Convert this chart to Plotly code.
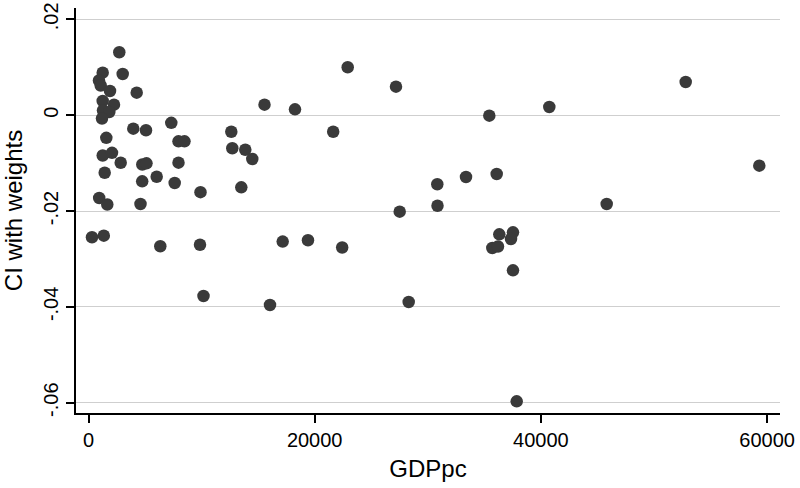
import plotly.graph_objects as go

# GDP per capita and the weighted concentration index
gdppc = [
    2723, 3024, 1256, 928, 1079, 1901, 4262, 1256, 2255, 1282,
    1839, 1194, 3961, 5084, 7321, 7958, 8488, 1574, 12627, 12715,
    13864, 14483, 1256, 2078, 2847, 4757, 5128, 7958, 1432, 6030,
    4748, 7622, 9903, 13511, 946, 1662, 4598, 15562, 18259, 309,
    1353, 6349, 9859, 17171, 10168, 16048, 22919, 27189, 21636, 35439,
    40744, 52804, 59312, 30841, 33379, 36093, 30859, 27517, 45820, 19408,
    22432, 36323, 37534, 37358, 35704, 36208, 37534, 28312, 37862,
]
ci_weights = [
    0.01313, 0.00860, 0.00887, 0.00724, 0.00620, 0.00505, 0.00470, 0.00296, 0.00219, 0.00098,
    0.00067, -0.00069, -0.00282, -0.00315, -0.00159, -0.00545, -0.00545, -0.00472, -0.00346, -0.00689,
    -0.00722, -0.00914, -0.00841, -0.00785, -0.00993, -0.01029, -0.01004, -0.00991, -0.01202, -0.01284,
    -0.01380, -0.01415, -0.01607, -0.01505, -0.01728, -0.01864, -0.01853, 0.00219, 0.00123, -0.02548,
    -0.02515, -0.02736, -0.02703, -0.02638, -0.03773, -0.03961, 0.01000, 0.00595, -0.00346, -0.00010,
    0.00171, 0.00693, -0.01054, -0.01442, -0.01290, -0.01227, -0.01889, -0.02014, -0.01853, -0.02609,
    -0.02761, -0.02486, -0.02444, -0.02584, -0.02772, -0.02740, -0.03237, -0.03898, -0.05971,
]

x_ticks = [0, 20000, 40000, 60000]
x_tick_labels = ["0", "20000", "40000", "60000"]
y_ticks = [0.02, 0, -0.02, -0.04, -0.06]
y_tick_labels = [".02", "0", "-.02", "-.04", "-.06"]

fig = go.Figure()
fig.add_trace(
    go.Scatter(
        x=gdppc,
        y=ci_weights,
        mode="markers",
        marker=dict(size=12.5, color="#3a3a3a", line=dict(width=0)),
        showlegend=False,
    )
)

fig.update_layout(
    width=800,
    height=488,
    margin=dict(l=76, r=20, t=8, b=75),
    plot_bgcolor="white",
    paper_bgcolor="white",
    font=dict(family="Liberation Sans, Arial, sans-serif", color="black", size=20),
)
fig.update_xaxes(
    range=[-1105, 61143],
    tickvals=x_ticks,
    ticktext=x_tick_labels,
    ticks="outside",
    ticklen=8,
    tickwidth=1.5,
    tickcolor="black",
    tickfont=dict(size=20),
    showgrid=False,
    zeroline=False,
    showline=True,
    linecolor="black",
    linewidth=1.5,
    automargin=False,
    title=dict(text="GDPpc", font=dict(size=24), standoff=10),
)
fig.update_yaxes(
    range=[-0.06215, 0.02237],
    tickvals=y_ticks,
    ticktext=y_tick_labels,
    tickangle=-90,
    ticks="outside",
    ticklen=8,
    tickwidth=1.5,
    tickcolor="black",
    tickfont=dict(size=20),
    showgrid=True,
    gridcolor="#cfcfcf",
    gridwidth=1.4,
    zeroline=False,
    showline=True,
    linecolor="black",
    linewidth=1.5,
    automargin=False,
    title=dict(text="CI with weights", font=dict(size=24), standoff=12),
)

# the page body has an 8px default margin; drop it so the figure fills the window
fig.write_html(
    "out.html",
    config={"displayModeBar": False},
    post_script="document.body.style.margin = '0';",
)
